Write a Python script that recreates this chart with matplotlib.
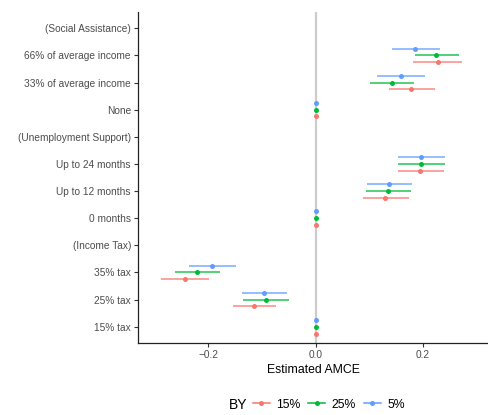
import matplotlib.pyplot as plt
from matplotlib.lines import Line2D

plt.rcParams['font.family'] = ['Liberation Sans', 'DejaVu Sans']

# levels from top to bottom
levels = ['(Social Assistance)', '66% of average income', '33% of average income', 'None',
          '(Unemployment Support)', 'Up to 24 months', 'Up to 12 months', '0 months',
          '(Income Tax)', '35% tax', '25% tax', '15% tax']

groups = ['15%', '25%', '5%']
colors = {'15%': '#F8766D', '25%': '#00BA38', '5%': '#619CFF'}

# estimates per group (None = header row, no estimate)
est = {
    '15%': [None, 0.227, 0.178, 0.0, None, 0.195, 0.130, 0.0, None, -0.244, -0.115, 0.0],
    '25%': [None, 0.225, 0.142, 0.0, None, 0.197, 0.135, 0.0, None, -0.221, -0.093, 0.0],
    '5%':  [None, 0.185, 0.159, 0.0, None, 0.197, 0.137, 0.0, None, -0.193, -0.097, 0.0],
}
lower = {
    '15%': [None, 0.182, 0.137, 0.0, None, 0.153, 0.088, 0.0, None, -0.288, -0.154, 0.0],
    '25%': [None, 0.185, 0.102, 0.0, None, 0.154, 0.094, 0.0, None, -0.262, -0.135, 0.0],
    '5%':  [None, 0.143, 0.115, 0.0, None, 0.154, 0.095, 0.0, None, -0.235, -0.137, 0.0],
}
upper = {
    '15%': [None, 0.272, 0.222, 0.0, None, 0.240, 0.173, 0.0, None, -0.199, -0.073, 0.0],
    '25%': [None, 0.267, 0.183, 0.0, None, 0.241, 0.177, 0.0, None, -0.178, -0.049, 0.0],
    '5%':  [None, 0.231, 0.203, 0.0, None, 0.241, 0.180, 0.0, None, -0.148, -0.054, 0.0],
}
offsets = {'15%': -0.25, '25%': 0.0, '5%': 0.25}

fig = plt.figure(figsize=(4.89, 4.15), dpi=100)
ax = fig.add_axes([0.282, 0.1735, 0.717, 0.7975])

n = len(levels)
ypos = [n - 1 - i for i in range(n)]

ax.axvline(0, color='#cccccc', lw=1.6, zorder=1)

for g in groups:
    for i, y in enumerate(ypos):
        if est[g][i] is None:
            continue
        yy = y + offsets[g]
        ax.plot([lower[g][i], upper[g][i]], [yy, yy], color=colors[g], lw=1.1,
                solid_capstyle='butt', zorder=2, alpha=0.85)
        ax.plot(est[g][i], yy, 'o', color=colors[g], ms=3.6, mec='none', zorder=3)

ax.set_xlim(-0.331, 0.322)
ax.set_ylim(-0.6, n - 0.4)
ax.set_yticks(ypos)
ax.set_yticklabels(levels)
ax.set_xticks([-0.2, 0.0, 0.2])
ax.set_xticklabels(['\u22120.2', '0.0', '0.2'])
ax.tick_params(axis='both', labelsize=7.3, labelcolor='#4d4d4d', color='#333333',
               length=3, width=0.8, pad=2)
for s in ['top', 'right']:
    ax.spines[s].set_visible(False)
for s in ['left', 'bottom']:
    ax.spines[s].set_color('#222222')
    ax.spines[s].set_linewidth(0.9)
ax.set_xlabel('Estimated AMCE', fontsize=8.8, labelpad=3)

handles = [Line2D([0], [0], color=colors[g], lw=1.1, marker='o', ms=3.6, mec='none')
           for g in groups]
fig.text(0.468, 0.024, 'BY', fontsize=10, ha='left', va='center')
fig.legend(handles, groups, loc='center left', bbox_to_anchor=(0.517, 0.025), ncol=3,
           frameon=False, fontsize=8.8, handlelength=1.4, handletextpad=0.5,
           columnspacing=0.65, borderaxespad=0, borderpad=0)

fig.savefig('out.png', dpi=100)
